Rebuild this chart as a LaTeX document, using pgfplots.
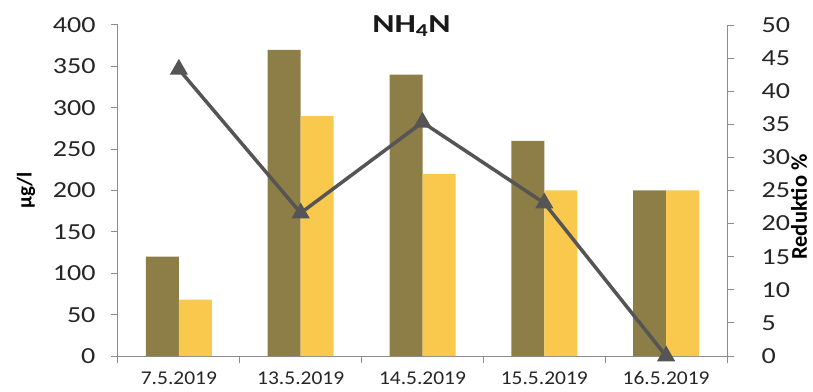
\documentclass[border=0pt]{standalone}
\usepackage{fontspec}
\setmainfont{Carlito}[FakeStretch=1.1]
\newfontfamily\tickfont{Carlito}[FakeStretch=1.22]
\newfontfamily\titlefont{Carlito}[FakeStretch=1.3]
\newfontfamily\plainfont{Carlito}
\usepackage{pgfplots}
\pgfplotsset{compat=1.18}
\definecolor{olivebar}{HTML}{8C7E46}
\definecolor{goldbar}{HTML}{F8C94C}
\definecolor{linegray}{HTML}{555555}
\definecolor{axisgray}{HTML}{8C8C8C}
\begin{document}
\begin{tikzpicture}
\useasboundingbox (-118pt,-35pt) rectangle (695pt,356pt);
\begin{axis}[
  at={(0,0)}, anchor=south west,
  scale only axis, width=609pt, height=331pt,
  xmin=-0.5, xmax=4.5, ymin=0, ymax=400,
  axis y line*=left, axis x line*=bottom,
  axis line style={axisgray, line width=1pt},
  tick align=outside,
  tick style={axisgray, line width=1pt},
  major tick length=7pt, minor tick length=7pt,
  ybar=0pt, bar width=33pt,
  xtick={0,...,4},
  xticklabels={7.5.2019,13.5.2019,14.5.2019,15.5.2019,16.5.2019},
  major x tick style={draw=none},
  minor xtick={-0.5,0.5,1.5,2.5,3.5,4.5},
  ytick={0,50,...,400},
  /pgf/number format/assume math mode=true,
  yticklabel style={font=\tickfont\fontsize{23}{23}\selectfont, text=black!85, xshift=-12pt},
  xticklabel style={font=\fontsize{19.5}{19.5}\selectfont, text=black!85, yshift=-5pt},
]
\addplot[fill=olivebar, draw=none] coordinates {(0,120)(1,370)(2,340)(3,260)(4,200)};
\addplot[fill=goldbar, draw=none] coordinates {(0,68)(1,290)(2,220)(3,200)(4,200)};
\end{axis}
\begin{axis}[
  at={(0,0)}, anchor=south west,
  scale only axis, width=609pt, height=331pt,
  xmin=-0.5, xmax=4.5, ymin=0, ymax=50,
  axis y line*=right, axis x line=none,
  axis line style={axisgray, line width=1pt},
  tick align=outside,
  tick style={axisgray, line width=1pt},
  major tick length=7pt,
  ytick={0,5,...,50},
  /pgf/number format/assume math mode=true,
  yticklabel style={font=\tickfont\fontsize{23}{23}\selectfont, text=black!85, xshift=24pt},
  clip=false,
]
\addplot[linegray, line width=3.5pt, mark=triangle*, mark size=7pt] coordinates {(0,43.3)(1,21.6)(2,35.3)(3,23.1)(4,0)};
\node[rotate=90, anchor=center, inner sep=0pt, font=\plainfont\bfseries\fontsize{22.5}{22.5}\selectfont] at ([xshift=72pt]rel axis cs:1,0.45) {Reduktio \%};
\node[rotate=90, anchor=center, font=\plainfont\bfseries\fontsize{21}{21}\selectfont] at ([xshift=-92pt]rel axis cs:0,0.5) {μg/l};
\node[font=\titlefont\bfseries\fontsize{26}{26}\selectfont, anchor=center, text=black!90] at ([xshift=-11pt,yshift=-1pt]rel axis cs:0.5,1) {NH\textsubscript{4}N};
\end{axis}
\end{tikzpicture}
\end{document}
